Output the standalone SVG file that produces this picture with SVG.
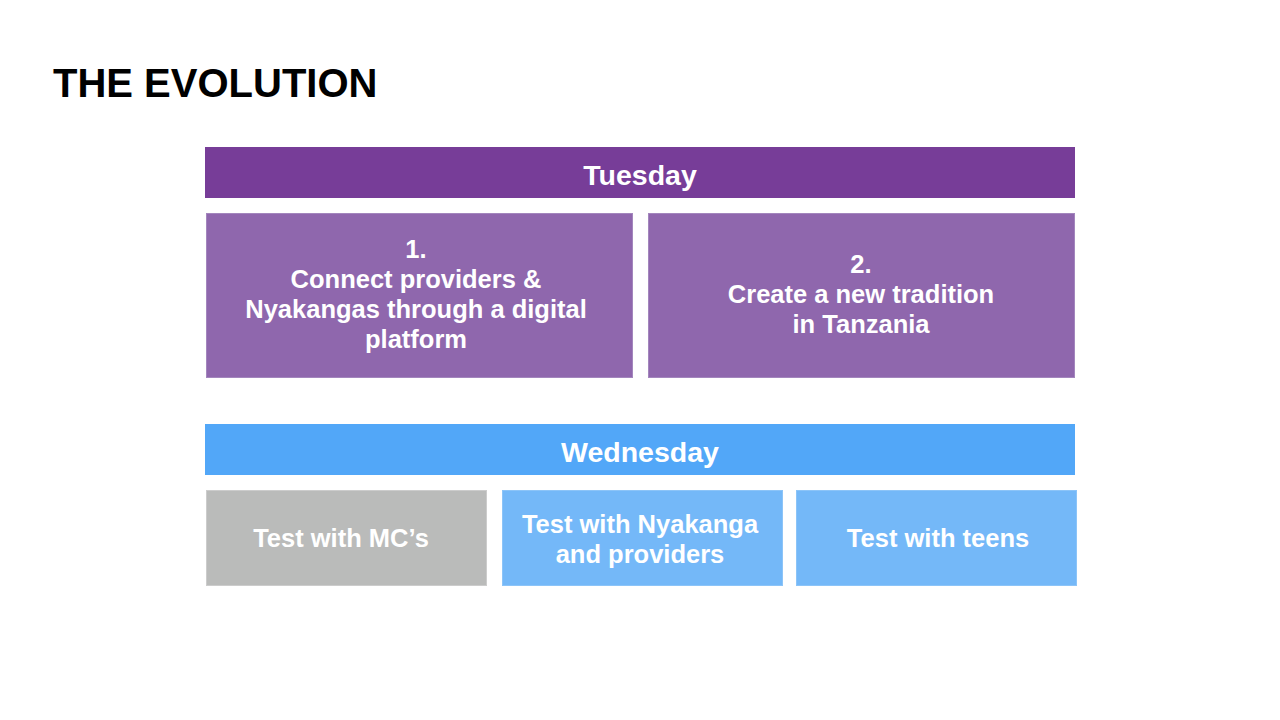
<svg xmlns="http://www.w3.org/2000/svg" width="1280" height="720" viewBox="0 0 1280 720">
<style>
text{font-family:"Liberation Sans",Arial,sans-serif;font-weight:bold;}
.t{fill:#ffffff;text-anchor:middle;font-size:25.5px;}
.h{fill:#ffffff;text-anchor:middle;font-size:28.5px;}
.dark{fill:#773D98;}
.purple{fill:#8F67AD;stroke:#A386BD;stroke-width:1;}
.blue{fill:#52A7F8;}
.lblue{fill:#74B8F8;stroke:#8CC4F8;stroke-width:1;}
.grey{fill:#BABBBA;stroke:#CCCCCC;stroke-width:1;}
</style>
<rect width="1280" height="720" fill="#ffffff"/>
<text x="53" y="97" font-size="40" fill="#000000">THE EVOLUTION</text>
<g id="tuesday">
<rect class="dark" x="205" y="147" width="870" height="51"/>
<text class="h" x="640" y="185">Tuesday</text>
</g>
<g id="box1">
<rect class="purple" x="206.5" y="213.5" width="426" height="164"/>
<text class="t" x="416" y="258">1.</text>
<text class="t" x="416" y="288">Connect providers &amp;</text>
<text class="t" x="416" y="318">Nyakangas through a digital</text>
<text class="t" x="416" y="348">platform</text>
</g>
<g id="box2">
<rect class="purple" x="648.5" y="213.5" width="426" height="164"/>
<text class="t" x="861" y="273">2.</text>
<text class="t" x="861" y="303">Create a new tradition</text>
<text class="t" x="861" y="333">in Tanzania</text>
</g>
<g id="wednesday">
<rect class="blue" x="205" y="424" width="870" height="51"/>
<text class="h" x="640" y="462">Wednesday</text>
</g>
<g id="mc">
<rect class="grey" x="206.5" y="490.5" width="280" height="95"/>
<text class="t" x="341" y="547">Test with MC’s</text>
</g>
<g id="nyakanga">
<rect class="lblue" x="502.5" y="490.5" width="280" height="95"/>
<text class="t" x="640" y="533">Test with Nyakanga</text>
<text class="t" x="640" y="563">and providers</text>
</g>
<g id="teens">
<rect class="lblue" x="796.5" y="490.5" width="280" height="95"/>
<text class="t" x="938" y="547">Test with teens</text>
</g>
<g id="connectors"/>
</svg>
